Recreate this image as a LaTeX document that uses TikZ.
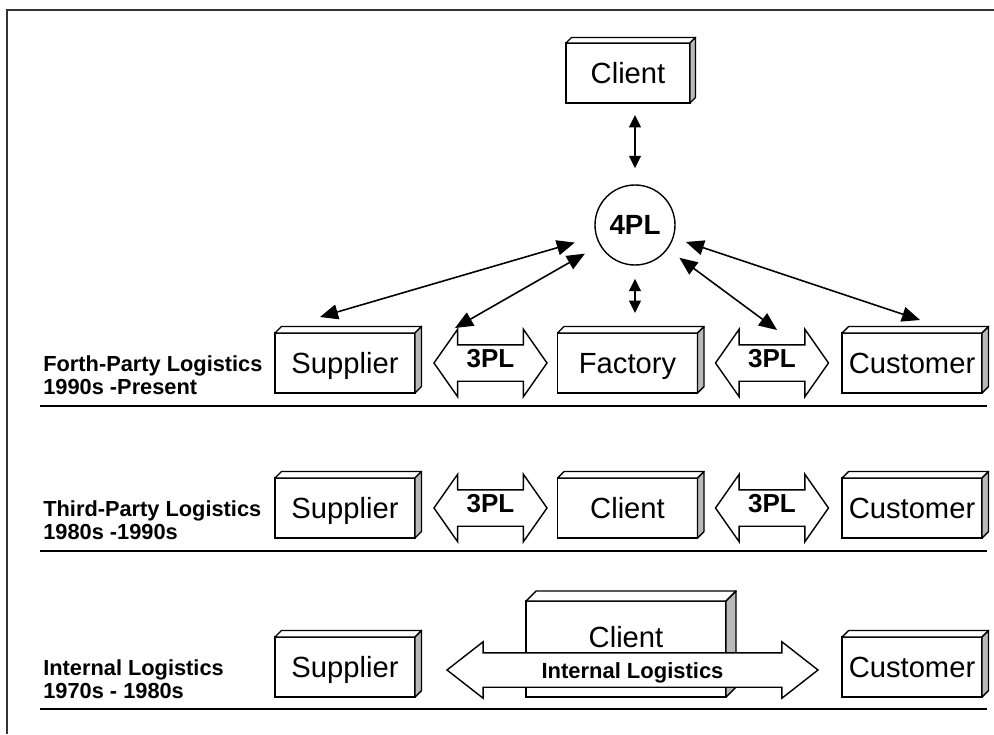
\documentclass[tikz,border=0pt]{standalone}
\usepackage{fontspec}
\setmainfont{Liberation Sans}
\usetikzlibrary{shapes.arrows,arrows.meta}

\begin{document}
\begin{tikzpicture}[
    block/.style={rectangle,draw,fill=white,line width=0.8pt,outer sep=0pt,minimum width=2.8cm,minimum height=1.2cm,inner sep=0pt,text height=0.43cm,text depth=0cm,font=\fontsize{16.6}{19}\selectfont},
    face/.style={draw,fill=white,line width=0.8pt,line join=round},
    sideface/.style={face,fill=gray!55},
    tpl/.style={double arrow,draw,fill=white,line width=0.8pt,double arrow head extend=0.31cm,double arrow tip angle=110,minimum height=2.26cm,inner xsep=0pt,inner ysep=0.02cm,text height=0.41cm,text depth=0.25cm,font=\bfseries\fontsize{14.8}{16}\selectfont},
    hub/.style={circle,draw,fill=white,line width=0.8pt,minimum size=1.6cm,inner sep=0pt,font=\bfseries\fontsize{15.8}{18}\selectfont},
    era/.style={anchor=west,align=left,inner sep=0pt,font=\bfseries\fontsize{12.4}{13.1}\selectfont},
    link/.style={line width=0.9pt,{Triangle[length=0.36cm,width=0.3cm]}-{Triangle[length=0.36cm,width=0.3cm]}},
    shortlink/.style={line width=0.9pt,{Triangle[length=0.25cm,width=0.24cm]}-{Triangle[length=0.25cm,width=0.24cm]}},
    sepline/.style={line width=1.3pt},
    edgeline/.style={line width=0.6pt,black!80},
  ]

  \useasboundingbox (0,0) rectangle (19.88,14.68);

  % rows and columns
  \def\ra{7.42}
  \def\rb{4.52}
  \def\rc{1.34}
  \def\xs{6.9}
  \def\xa{9.81}
  \def\xf{12.55}
  \def\xb{15.44}
  \def\xc{18.24}

  % frame
  \draw[edgeline] (0.14,0) -- (0.14,14.48) -- (19.88,14.48);

  %% Forth-Party Logistics
  \node[block,minimum width=2.48cm] (cltop) at (12.56,13.22) {Client};
  \node[hub] (fourpl) at (12.7,10.18) {4PL};

  \node[block] (sup1) at (\xs,\ra) {Supplier};
  \node[block] (fac1) at (\xf,\ra) {Factory};
  \node[block] (cus1) at (\xc,\ra) {Customer};

  %% Third-Party Logistics
  \node[block] (sup2) at (\xs,\rb) {Supplier};
  \node[block] (cli2) at (\xf,\rb) {Client};
  \node[block] (cus2) at (\xc,\rb) {Customer};

  %% Internal Logistics
  \node[block] (sup3) at (\xs,\rc) {Supplier};
  \node[block,minimum width=4cm,minimum height=1.92cm,inner ysep=0.51cm,text height=0.41cm,text depth=0.49cm] (cli3) at (12.52,1.7) {Client};
  \node[block] (cus3) at (\xc,\rc) {Customer};

  % 3D top and side of the boxes
  \foreach \n/\d in {cltop/0.11,sup1/0.13,fac1/0.13,cus1/0.13,sup2/0.13,cli2/0.13,cus2/0.13,sup3/0.13,cli3/0.2,cus3/0.13}{
    \draw[face] (\n.north west) -- ++(\d,\d) -- ([shift={(\d,\d)}]\n.north east) -- (\n.north east) -- cycle;
    \draw[sideface] (\n.north east) -- ++(\d,\d) -- ([shift={(\d,\d)}]\n.south east) -- (\n.south east) -- cycle;
  }

  % 3PL arrows
  \node[tpl] (tpl1) at (\xa,\ra) {3PL};
  \node[tpl] (tpl2) at (\xb,\ra) {3PL};
  \node[tpl] (tpl3) at (\xa,\rb) {3PL};
  \node[tpl] (tpl4) at (\xb,\rb) {3PL};
  \node[tpl,minimum height=7.42cm,double arrow head extend=0.22cm,double arrow tip angle=76,inner ysep=0pt,text height=0.5cm,text depth=0.16cm,font=\bfseries\fontsize{12.5}{14}\selectfont] (intl) at (12.65,1.28) {Internal Logistics};

  % links to the 4PL
  \draw[shortlink,shorten <=0.32cm,shorten >=0.24cm] (fourpl.north) -- (fourpl.north |- cltop.south);
  \draw[shortlink,shorten <=0.26cm,shorten >=0.4cm] (fourpl.south) -- (fourpl.south |- fac1.north);
  \draw[link,shorten <=0.44cm] (fourpl) -- ([xshift=-0.5cm,yshift=0.32cm]sup1.north);
  \draw[link,shorten <=0.34cm] (fourpl) -- ([xshift=-0.71cm,yshift=0.7cm]tpl1.center);
  \draw[link,shorten <=0.29cm] (fourpl) -- ([xshift=0.1cm,yshift=0.66cm]tpl2.center);
  \draw[link,shorten <=0.26cm] (fourpl) -- ([xshift=0.16cm,yshift=0.26cm]cus1.north);

  % separating lines
  \draw[sepline] (0.8,6.56) -- (19.74,6.56);
  \draw[sepline] (0.8,3.66) -- (19.74,3.66);
  \draw[sepline] (0.8,0.5) -- (19.74,0.5);

  % eras
  \node[era] (lab1) at (0.86,7.17) {Forth-Party Logistics\\1990s -Present};
  \node[era] (lab2) at (0.86,4.27) {Third-Party Logistics\\1980s -1990s};
  \node[era] (lab3) at (0.86,1.09) {Internal Logistics\\1970s - 1980s};

\end{tikzpicture}
\end{document}
